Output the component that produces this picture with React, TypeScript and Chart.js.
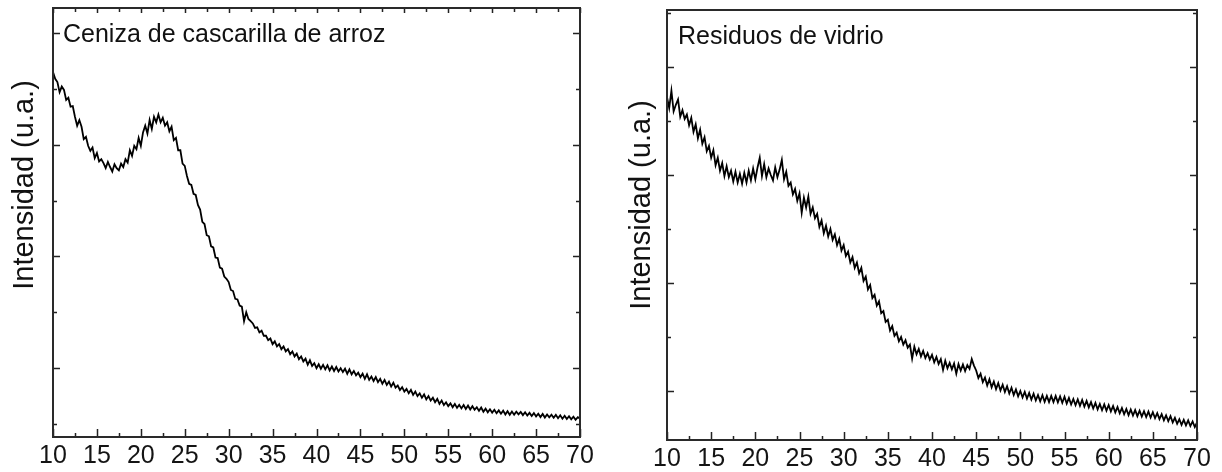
import React, { useEffect, useRef } from "react";
import { Chart, registerables } from "chart.js";

Chart.register(...registerables);

// 2θ sampling grid (degrees): 10 → 70 every 0.25°
const START_2THETA = 10;
const STEP_2THETA = 0.25;

const xMajorTicks = [10, 15, 20, 25, 30, 35, 40, 45, 50, 55, 60, 65, 70];
const xMinorTicks = [12.5, 17.5, 22.5, 27.5, 32.5, 37.5, 42.5, 47.5, 52.5, 57.5, 62.5, 67.5];

const yTitle = "Intensidad (u.a.)";
const labelCeniza = "Ceniza de cascarilla de arroz";
const labelVidrio = "Residuos de vidrio";

// Intensidad (u.a.) — ceniza de cascarilla de arroz, one row per 5°
const cenizaCounts = [
  3650, 3590, 3560, 3470, 3520, 3490, 3400, 3420, 3340, 3345, 3250, 3170, 3220, 3160, 3050, 3070, 2990, 2945, 2975, 2880,
  2925, 2850, 2870, 2835, 2790, 2845, 2800, 2760, 2825, 2790, 2770, 2830, 2800, 2870, 2840, 2950, 2900, 2990, 2960, 3060,
  2990, 3110, 3170, 3100, 3220, 3140, 3250, 3200, 3270, 3200, 3240, 3170, 3200, 3120, 3160, 3040, 3060, 2950, 2950, 2830,
  2810, 2720, 2650, 2640, 2560, 2550, 2460, 2420, 2310, 2290, 2190, 2180, 2090, 2080, 1990, 1985, 1900, 1890, 1820, 1800,
  1770, 1700, 1690, 1620, 1615, 1560, 1550, 1420, 1500, 1440, 1420, 1400, 1360, 1365, 1320, 1335, 1290, 1290, 1250, 1265,
  1215, 1240, 1195, 1215, 1170, 1195, 1150, 1170, 1125, 1150, 1105, 1130, 1080, 1105, 1060, 1085, 1030, 1070, 1020, 1045,
  1000, 1035, 995, 1030, 990, 1025, 980, 1015, 975, 1010, 970, 1000, 965, 995, 950, 990, 945, 975, 935, 960,
  920, 950, 905, 945, 895, 925, 885, 920, 875, 905, 860, 895, 850, 880, 835, 870, 825, 845, 805, 830,
  790, 815, 775, 805, 760, 790, 750, 775, 735, 765, 720, 750, 710, 735, 695, 725, 680, 710, 670, 695,
  660, 685, 650, 680, 645, 672, 640, 670, 635, 665, 630, 660, 628, 650, 618, 648, 610, 638, 605, 632,
  602, 628, 597, 622, 592, 620, 585, 615, 583, 612, 584, 610, 586, 608, 580, 606, 576, 600, 572, 598,
  568, 592, 562, 590, 558, 585, 560, 583, 556, 582, 552, 578, 548, 574, 545, 570, 542, 566, 538, 562,
  548,
];

// Intensidad (u.a.) — residuos de vidrio, one row per 5°
const vidrioCounts = [
  3720, 3620, 3780, 3590, 3650, 3700, 3540, 3600, 3520, 3560, 3460, 3530, 3400, 3470, 3340, 3420, 3290, 3350, 3220, 3270,
  3160, 3230, 3090, 3160, 3040, 3110, 2990, 3080, 2980, 3040, 2940, 3030, 2930, 3010, 2920, 3020, 2930, 3040, 2950, 3060,
  2960, 3070, 3160, 2990, 3100, 2980, 3060, 3000, 2950, 3070, 2980, 3050, 3140, 2960, 3030, 2900, 2930, 2820, 2870, 2760,
  2830, 2650, 2790, 2700, 2800, 2640, 2700, 2600, 2640, 2520, 2580, 2460, 2530, 2430, 2500, 2400, 2450, 2350, 2410, 2300,
  2350, 2250, 2290, 2190, 2240, 2140, 2190, 2090, 2140, 2020, 2060, 1940, 1980, 1860, 1890, 1790, 1830, 1720, 1740, 1640,
  1660, 1560, 1600, 1510, 1540, 1460, 1500, 1430, 1470, 1400, 1430, 1300, 1410, 1340, 1390, 1320, 1370, 1305, 1350, 1290,
  1335, 1265, 1315, 1250, 1295, 1195, 1280, 1210, 1260, 1200, 1255, 1160, 1250, 1190, 1245, 1185, 1240, 1205, 1295, 1235,
  1190, 1120, 1160, 1082, 1125, 1050, 1108, 1034, 1088, 1018, 1073, 1005, 1058, 991, 1044, 977, 1030, 963, 1015, 950,
  1000, 940, 992, 930, 982, 920, 974, 912, 963, 905, 960, 900, 955, 897, 955, 898, 954, 895, 950, 891,
  946, 884, 936, 875, 926, 868, 922, 863, 917, 856, 908, 848, 897, 838, 890, 829, 880, 822, 876, 818,
  870, 811, 861, 802, 851, 793, 842, 784, 833, 776, 828, 772, 823, 767, 818, 763, 813, 759, 809, 754,
  804, 748, 795, 739, 785, 729, 775, 720, 766, 709, 752, 696, 738, 686, 733, 682, 728, 675, 718, 666,
  710,
];

const cenizaYMajor = [1000, 2000, 3000, 4000];
const cenizaYMinor = [500, 1500, 2500, 3500];
const vidrioYMajor = [1000, 2000, 3000, 4000];
const vidrioYMinor = [1500, 2500, 3500, 4500];

const FONT = '"Liberation Sans", Arial, Helvetica, sans-serif';
const W = 611;
const H = 472;

type PanelProps = {
  left: number;
  counts: number[];
  yMin: number;
  yMax: number;
  yMajor: number[];
  yMinor: number[];
  pad: { left: number; right: number; top: number };
  axisHeight: number;
  label: string;
  labelPos: [number, number];
  yTitlePos: [number, number];
  topTicks: boolean;
};

function Panel(p: PanelProps) {
  const ref = useRef<HTMLCanvasElement | null>(null);
  useEffect(() => {
    const canvas = ref.current;
    if (!canvas) return;
    const points = p.counts.map((v, i) => ({ x: START_2THETA + i * STEP_2THETA, y: v }));
    const framePlugin = {
      id: "frameTicks",
      afterDatasetsDraw(chart: any) {
        const { ctx, chartArea: a, scales } = chart;
        const xs = scales.x;
        const ys = scales.y;
        ctx.save();
        ctx.strokeStyle = "#222";
        ctx.lineWidth = 1.5;
        ctx.beginPath();
        const xt = (vals: number[], len: number, topLen: number) => {
          vals.forEach((v) => {
            const px = Math.round(xs.getPixelForValue(v)) + 0.5;
            ctx.moveTo(px, a.bottom);
            ctx.lineTo(px, a.bottom - len);
            if (p.topTicks) {
              ctx.moveTo(px, a.top);
              ctx.lineTo(px, a.top + topLen);
            }
          });
        };
        xt(xMajorTicks, 8, 5);
        xt(xMinorTicks, 4, 4);
        const yt = (vals: number[], len: number) => {
          vals.forEach((v) => {
            const py = Math.round(ys.getPixelForValue(v)) + 0.5;
            ctx.moveTo(a.left, py);
            ctx.lineTo(a.left + len, py);
            ctx.moveTo(a.right, py);
            ctx.lineTo(a.right - len, py);
          });
        };
        yt(p.yMajor, 7);
        yt(p.yMinor, 4);
        ctx.stroke();
        ctx.lineWidth = 2;
        ctx.strokeStyle = "#2a2a2a";
        ctx.strokeRect(a.left, a.top, a.right - a.left, a.bottom - a.top);
        ctx.fillStyle = "#111";
        ctx.font = `25px ${FONT}`;
        ctx.textAlign = "left";
        ctx.textBaseline = "alphabetic";
        ctx.fillText(p.label, p.labelPos[0], p.labelPos[1]);
        ctx.translate(p.yTitlePos[0], p.yTitlePos[1]);
        ctx.rotate(-Math.PI / 2);
        ctx.textAlign = "center";
        ctx.font = `29px ${FONT}`;
        ctx.fillText(yTitle, 0, 0);
        ctx.restore();
      },
    };
    const chart = new Chart(canvas, {
      type: "line",
      data: {
        datasets: [
          {
            data: points,
            borderColor: "#000",
            borderWidth: 1.8,
            pointRadius: 0,
            tension: 0,
            fill: false,
          },
        ],
      },
      options: {
        animation: false,
        responsive: false,
        devicePixelRatio: 1,
        layout: { padding: { left: p.pad.left, right: p.pad.right, top: p.pad.top, bottom: 0 } },
        plugins: { legend: { display: false }, tooltip: { enabled: false }, title: { display: false } },
        scales: {
          x: {
            type: "linear",
            min: 10,
            max: 70,
            grid: { display: false, drawTicks: false },
            border: { display: false },
            ticks: {
              stepSize: 5,
              autoSkip: false,
              maxRotation: 0,
              padding: 4,
              color: "#141414",
              font: { family: FONT, size: 25, lineHeight: 1.2 },
            },
            afterFit: (s: any) => {
              s.height = p.axisHeight;
            },
          },
          y: {
            type: "linear",
            display: false,
            min: p.yMin,
            max: p.yMax,
          },
        },
      } as any,
      plugins: [framePlugin],
    });
    return () => chart.destroy();
  }, []);
  return (
    <canvas
      ref={ref}
      width={W}
      height={H}
      style={{ position: "absolute", left: p.left, top: 0, width: W, height: H }}
    />
  );
}

export default function App() {
  return (
    <div style={{ position: "fixed", left: 0, top: 0, width: 1222, height: 472, background: "#fff" }}>
      <Panel
        left={0}
        counts={cenizaCounts}
        yMin={384}
        yMax={4223}
        yMajor={cenizaYMajor}
        yMinor={cenizaYMinor}
        pad={{ left: 53, right: 31, top: 8 }}
        axisHeight={35}
        label={labelCeniza}
        labelPos={[63, 42]}
        yTitlePos={[33, 185]}
        topTicks={true}
      />
      <Panel
        left={611}
        counts={vidrioCounts}
        yMin={546}
        yMax={4528}
        yMajor={vidrioYMajor}
        yMinor={vidrioYMinor}
        pad={{ left: 56, right: 25, top: 10 }}
        axisHeight={32}
        label={labelVidrio}
        labelPos={[67, 44]}
        yTitlePos={[39, 205]}
        topTicks={false}
      />
    </div>
  );
}
